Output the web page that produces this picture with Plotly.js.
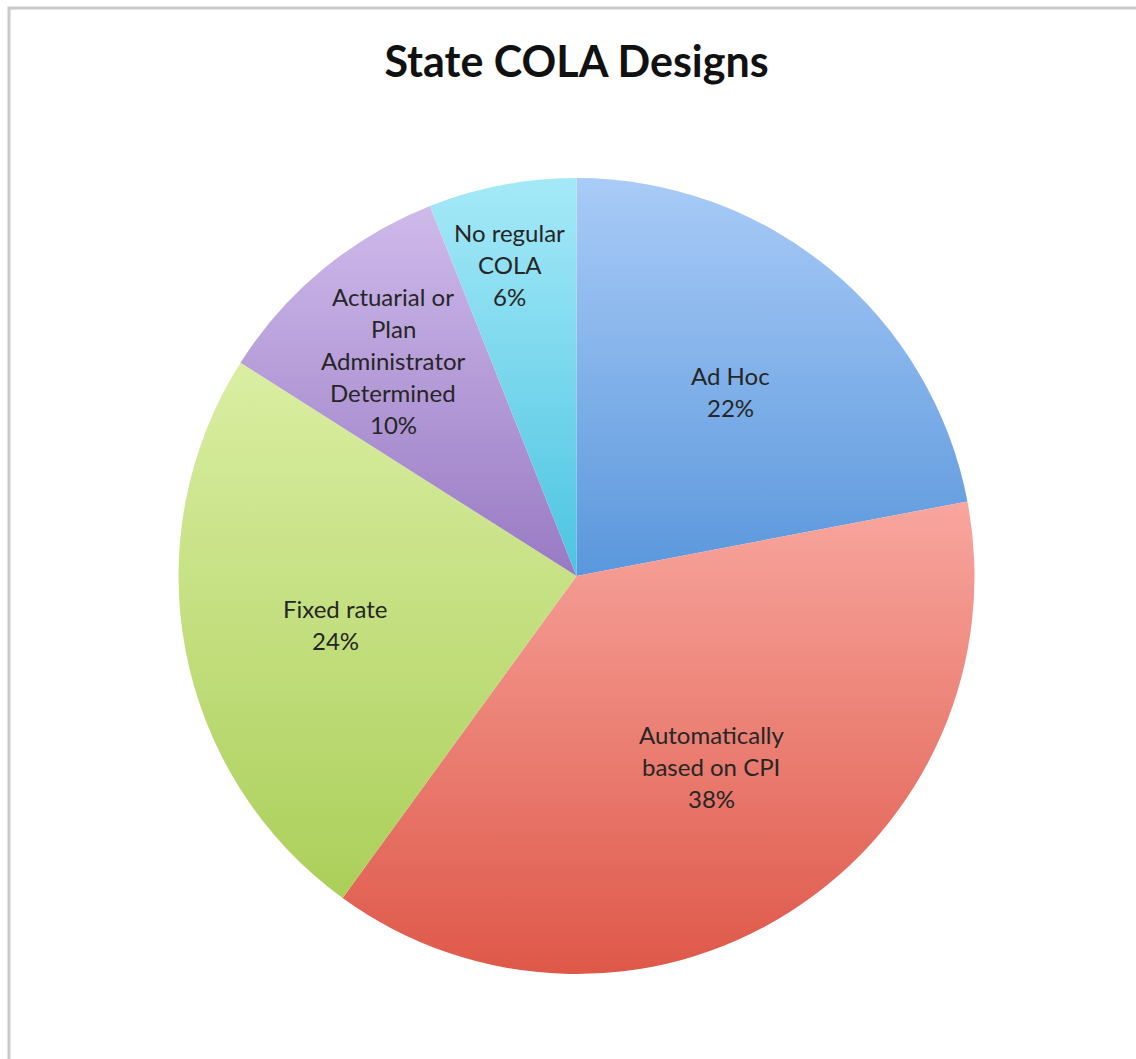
<!DOCTYPE html>
<html>
<head>
<meta charset="utf-8">
<script src="https://cdn.plot.ly/plotly-3.0.1.min.js"></script>
<style>
  html, body { margin: 0; padding: 0; background: #ffffff; }
  #chart { width: 1136px; height: 1059px; }
</style>
</head>
<body>
<div id="chart"></div>
<script>
// ---- Data ----
const categories = ["Ad Hoc", "Automatically based on CPI", "Fixed rate", "Actuarial or Plan Administrator Determined", "No regular COLA"];
const labelLines = [
  ["Ad Hoc"],
  ["Automatically", "based on CPI"],
  ["Fixed rate"],
  ["Actuarial or", "Plan", "Administrator", "Determined"],
  ["No regular", "COLA"]
];
const shares = [22, 38, 24, 10, 6];

// ---- Styles ----
const sliceColors = ["#80b1e9", "#ec8177", "#c6e281", "#b59ad8", "#7ad7ee"];
const gradTop = ["#a9cbf7", "#f8a69e", "#daeea2", "#cfbaeb", "#a5e9f8"];
const gradBottom = ["#5a97dc", "#de5849", "#abcf5a", "#987ac3", "#4cc4e1"];
const labelRadius = [0.605, 0.585, 0.617, 0.71, 0.80];
const labelAngleOffset = [0.3, -2.9, -0.7, -0.8, -1.3]; // degrees
const lineGap = 32;

const W = 1136, H = 1059;
const cx = 576.5, cy = 576, R = 398;

const total = shares.reduce((a, b) => a + b, 0);
const annotations = [];
let cum = 0;
shares.forEach((v, i) => {
  const mid = (cum + v / 2) / total * 2 * Math.PI + labelAngleOffset[i] * Math.PI / 180;
  cum += v;
  const r = R * labelRadius[i];
  const px = cx + r * Math.sin(mid);
  const py = cy - r * Math.cos(mid);
  const pct = Math.round(v / total * 100) + "%";
  const lines = labelLines[i].concat([pct]);
  const n = lines.length;
  lines.forEach((ln, j) => {
    annotations.push({
      xref: "paper", yref: "paper",
      x: px / W, y: 1 - py / H,
      xanchor: "center", yanchor: "middle",
      yshift: ((n - 1) / 2 - j) * lineGap,
      text: ln,
      showarrow: false,
      align: "center",
      font: { family: "Lato, 'Open Sans', sans-serif", size: 24, color: "#262626" }
    });
  });
});

const trace = {
  type: "pie",
  labels: categories,
  values: shares,
  sort: false,
  direction: "clockwise",
  rotation: 0,
  textinfo: "none",
  hoverinfo: "label+percent",
  marker: { colors: sliceColors, line: { width: 0 } },
  domain: { x: [(cx - R) / W, (cx + R) / W], y: [1 - (cy + R) / H, 1 - (cy - R) / H] },
  showlegend: false
};

const layout = {
  width: W, height: H,
  margin: { l: 0, r: 0, t: 0, b: 0 },
  paper_bgcolor: "#ffffff",
  showlegend: false,
  title: {
    text: "<b>State COLA Designs</b>",
    x: 576.5 / W, xanchor: "center",
    y: 1 - 62 / H, yanchor: "middle",
    font: { family: "Lato, 'Open Sans', sans-serif", size: 43, color: "#111111" }
  },
  annotations: annotations,
  shapes: [{
    type: "rect", xref: "paper", yref: "paper",
    x0: 9 / W, x1: 1.05, y0: -0.05, y1: 1 - 8 / H,
    line: { color: "#c9c9c9", width: 3 }, fillcolor: "rgba(0,0,0,0)"
  }]
};

Plotly.newPlot("chart", [trace], layout, { displayModeBar: false, staticPlot: true }).then(gd => {
  const svg = gd.querySelector("svg.main-svg");
  const ns = "http://www.w3.org/2000/svg";
  let defs = svg.querySelector("defs");
  if (!defs) { defs = document.createElementNS(ns, "defs"); svg.insertBefore(defs, svg.firstChild); }
  shares.forEach((v, i) => {
    const g = document.createElementNS(ns, "linearGradient");
    g.setAttribute("id", "sliceGrad" + i);
    g.setAttribute("x1", "0"); g.setAttribute("y1", "0");
    g.setAttribute("x2", "0"); g.setAttribute("y2", "1");
    const s1 = document.createElementNS(ns, "stop");
    s1.setAttribute("offset", "0"); s1.setAttribute("stop-color", gradTop[i]);
    const s2 = document.createElementNS(ns, "stop");
    s2.setAttribute("offset", "1"); s2.setAttribute("stop-color", gradBottom[i]);
    g.appendChild(s1); g.appendChild(s2);
    defs.appendChild(g);
  });
  const paths = gd.querySelectorAll("g.slice path.surface");
  paths.forEach((p, i) => { p.style.fill = "url(#sliceGrad" + i + ")"; });
});
</script>
</body>
</html>
